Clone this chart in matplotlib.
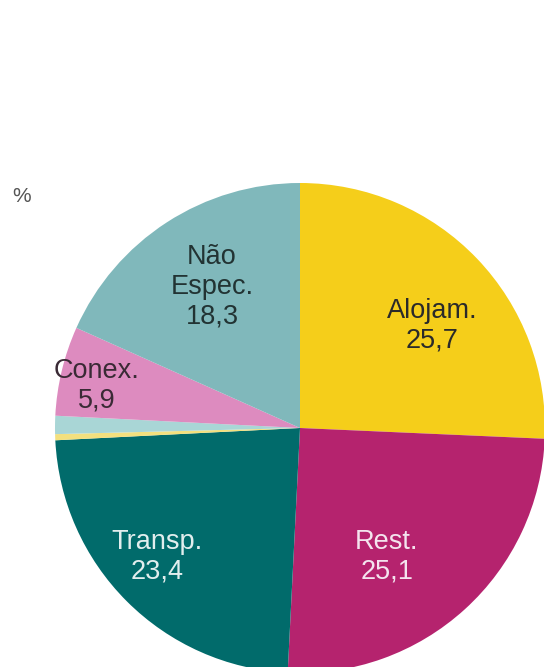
import matplotlib.pyplot as plt

plt.rcParams['font.family'] = ['Liberation Sans', 'DejaVu Sans']

# Data (clockwise from the top)
labels = ['Alojam.', 'Rest.', 'Transp.', '', '', 'Conex.', 'Não\nEspec.']
values = [25.7, 25.1, 23.4, 0.4, 1.2, 5.9, 18.3]
colors = ['#F5CE1A', '#B5236E', '#016B6B', '#F3E07E', '#A9D6D6', '#DD8BBF', '#80B8BB']
text_colors = ['#2a2a2a', '#F4E4EE', '#E2EEEE', None, None, '#3a2a35', '#223333']
label_pos = [(0.539, 0.416), (0.355, -0.527), (-0.584, -0.527), None, None,
             (-0.829, 0.171), (-0.359, 0.576)]

fig = plt.figure(figsize=(5.44, 6.67), dpi=100)
W, H = 544, 667
cx, cy, r = 300, 428, 245
ax = fig.add_axes([(cx - r) / W, (H - cy - r) / H, 2 * r / W, 2 * r / H])

ax.pie(values, colors=colors, startangle=90, counterclock=False,
       radius=1, wedgeprops=dict(linewidth=0))
ax.set_xlim(-1, 1)
ax.set_ylim(-1, 1)
ax.set_aspect('equal')
ax.axis('off')

for lab, v, tc, pos in zip(labels, values, text_colors, label_pos):
    if pos is None:
        continue
    txt = lab + '\n' + f'{v:.1f}'.replace('.', ',')
    ax.text(pos[0], pos[1], txt, ha='center', va='center', fontsize=19.5,
            color=tc, linespacing=1.17)

fig.text(22 / W, 1 - 197 / H, '%', fontsize=15, color='#555555',
         ha='center', va='center')

fig.savefig('out.png', dpi=100)
